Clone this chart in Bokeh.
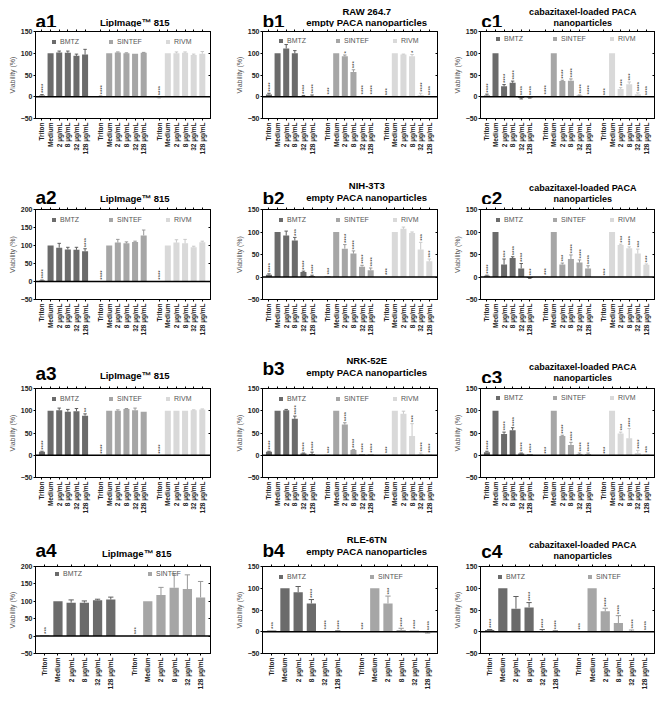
import math
from bokeh.plotting import figure
from bokeh.models import (ColumnDataSource, FixedTicker, LinearAxis, Span, Legend,
                          LegendItem, Label, Range1d, Grid)
from bokeh.layouts import gridplot
from bokeh.core.properties import value
from bokeh.embed import file_html
from bokeh.resources import INLINE

CATEGORIES = ["Triton", "Medium", "2 µg/mL", "8 µg/mL", "32 µg/mL", "128 µg/mL"]
SOURCES3 = ["BMTZ", "SINTEF", "RIVM"]
SOURCES2 = ["BMTZ", "SINTEF"]
COLORS = ["#6b6b6b", "#a6a6a6", "#d9d9d9"]
ERR_COLORS = ["#5e5e5e", "#999999", "#c9c9c9"]

TITLE_A = ["LipImage™ 815"]
TITLE_B1 = ["RAW 264.7", "empty PACA nanoparticles"]
TITLE_B2 = ["NIH-3T3", "empty PACA nanoparticles"]
TITLE_B3 = ["NRK-52E", "empty PACA nanoparticles"]
TITLE_B4 = ["RLE-6TN", "empty PACA nanoparticles"]
TITLE_C = ["cabazitaxel-loaded PACA", "nanoparticles"]

# ---- a: LipImage 815 ----
A1_MEAN = [[3, 100, 102, 101, 94, 97], [1, 100, 102, 100, 99, 101], [-2, 100, 100, 101, 96, 99]]
A1_ERR = [[2, 0, 3, 4, 4, 12], [1, 0, 1, 1, 0, 1], [1, 0, 3, 2, 2, 5]]
A1_SIG = [["****", "", "", "", "", ""], ["****", "", "", "", "", ""], ["****", "", "", "", "", ""]]

A2_MEAN = [[3, 100, 94, 89, 88, 84], [1, 100, 108, 106, 110, 128], [1, 100, 108, 106, 95, 109]]
A2_ERR = [[1, 0, 12, 6, 7, 7], [0, 0, 9, 4, 2, 15], [0, 0, 8, 11, 3, 3]]
A2_SIG = [["****", "", "", "", "", "****"], ["****", "", "", "", "", ""], ["****", "", "", "", "", ""]]

A3_MEAN = [[8, 100, 101, 98, 99, 89], [-1, 100, 100, 104, 101, 98], [-1, 100, 100, 100, 101, 103]]
A3_ERR = [[1, 0, 5, 5, 6, 4], [0, 0, 2, 1, 5, 0], [0, 0, 0, 0, 1, 1]]
A3_SIG = [["****", "", "", "", "", "**"], ["****", "", "", "", "", ""], ["****", "", "", "", "", ""]]

A4_MEAN = [[2, 100, 96, 96, 103, 105], [1, 100, 118, 139, 135, 111]]
A4_ERR = [[0, 0, 8, 5, 3, 7], [0, 0, 22, 40, 41, 46]]
A4_SIG = [["***", "", "", "", "", ""], ["***", "", "", "", "", ""]]

# ---- b: empty PACA nanoparticles ----
B1_MEAN = [[5, 100, 111, 100, 2, 2], [2, 100, 93, 57, 2, 2], [0, 100, 97, 93, 4, 0]]
B1_ERR = [[3, 0, 9, 6, 1, 2], [0, 0, 3, 5, 0, 0], [0, 0, 1, 4, 4, 0]]
B1_SIG = [["****", "", "", "", "****", "****"], ["***", "", "*", "***", "****", "****"],
          ["***", "", "", "*", "****", "****"]]

B2_MEAN = [[5, 100, 92, 81, 11, 2], [2, 100, 63, 52, 23, 15], [1, 100, 107, 98, 61, 35]]
B2_ERR = [[2, 0, 10, 7, 2, 2], [0, 0, 9, 6, 3, 5], [0, 0, 4, 2, 16, 5]]
B2_SIG = [["****", "", "", "***", "****", "****"], ["***", "", "****", "****", "****", "****"],
          ["***", "", "", "", "***", "***"]]

B3_MEAN = [[8, 100, 101, 82, 4, 3], [1, 100, 69, 12, 3, 2], [1, 100, 93, 43, 3, 2]]
B3_ERR = [[1, 0, 2, 6, 1, 4], [0, 0, 4, 1, 0, 0], [0, 0, 6, 28, 2, 0]]
B3_SIG = [["****", "", "", "****", "****", "****"], ["***", "", "****", "****", "****", "****"],
          ["***", "", "", "***", "****", "****"]]

B4_MEAN = [[3, 100, 91, 65, 2, 1], [2, 100, 65, 4, 3, -1]]
B4_ERR = [[0, 0, 13, 9, 0, 1], [0, 0, 17, 4, 0, 2]]
B4_SIG = [["***", "", "", "****", "****", "****"], ["***", "", "***", "****", "****", "****"]]

# ---- c: cabazitaxel-loaded PACA nanoparticles ----
C1_MEAN = [[3, 100, 24, 32, -3, -2], [2, 100, 36, 37, 3, 2], [0, 100, 18, 29, 6, 0]]
C1_ERR = [[3, 0, 4, 4, 2, 1], [0, 0, 2, 4, 1, 0], [0, 0, 3, 5, 3, 0]]
C1_SIG = [["****", "", "****", "****", "****", "****"], ["****", "", "****", "****", "****", "****"],
          ["***", "", "***", "***", "****", "****"]]

C2_MEAN = [[3, 100, 28, 42, 19, -2], [1, 100, 28, 40, 32, 19], [0, 100, 71, 64, 52, 27]]
C2_ERR = [[1, 0, 12, 3, 11, 1], [0, 0, 3, 9, 6, 6], [0, 0, 2, 3, 10, 2]]
C2_SIG = [["****", "", "***", "****", "****", "***"], ["***", "", "***", "****", "****", "****"],
          ["***", "", "***", "****", "***", "***"]]

C3_MEAN = [[7, 100, 48, 56, 4, 2], [0, 100, 43, 23, 3, 3], [0, 100, 49, 38, 5, 2]]
C3_ERR = [[2, 0, 4, 6, 1, 0], [0, 0, 2, 6, 2, 2], [0, 0, 3, 22, 6, 0]]
C3_SIG = [["****", "", "****", "****", "****", "****"], ["***", "", "****", "****", "****", "****"],
          ["***", "", "***", "****", "****", "***"]]

C4_MEAN = [[4, 100, 53, 56, 2, 1], [1, 100, 47, 20, 2, 0]]
C4_ERR = [[1, 0, 28, 11, 3, 1], [0, 0, 7, 17, 2, 0]]
C4_SIG = [["****", "", "", "****", "****", "****"], ["***", "", "****", "****", "****", "****"]]

FONT = "Liberation Sans"
GROUP_STEP = 68
BAR_STEP = 10


def style_axis(ax, size, bold=True):
    ax.major_label_text_font = FONT
    ax.major_label_text_font_size = size
    ax.major_label_text_font_style = "bold" if bold else "normal"
    ax.major_label_text_color = "#222222"
    ax.minor_tick_out = 0
    ax.minor_tick_in = 0
    ax.axis_line_color = "black"
    ax.major_tick_line_color = "black"


def hidden_axis(ticks, t_in, t_out):
    return LinearAxis(ticker=FixedTicker(ticks=ticks), major_tick_out=t_out, major_tick_in=t_in,
                      minor_tick_out=0, minor_tick_in=0, major_label_text_font_size="0px",
                      major_label_text_color=None, major_label_standoff=0,
                      axis_line_color="black", major_tick_line_color="black")


def build(letter, letter_y, titles, title_ys, title_size, mean, err, sig, sources, ymax,
          col, fw, header_h, plot_h, mbt, fh, leg_x, leg_sp):
    fig_w, bl, lx = col
    br = fig_w - bl - fw
    bb = plot_h - mbt - fh

    # header strip holding the panel letter and the title (pixel coordinates)
    h = figure(width=fig_w, height=header_h, x_range=Range1d(0, fig_w), y_range=Range1d(0, header_h),
               title=None, output_backend="svg", toolbar_location=None, tools="", min_border=0,
               x_axis_location=None, y_axis_location=None)
    h.outline_line_color = None
    h.background_fill_color = "white"
    h.border_fill_color = "white"
    for gr in h.select(type=Grid):
        gr.visible = False
    h.add_layout(Label(x=lx, y=letter_y, text=letter, text_font=FONT, text_font_size="19px",
                       text_font_style="bold", text_color="black",
                       text_baseline="alphabetic", text_align="left"))
    for line, ty in zip(titles, title_ys):
        h.add_layout(Label(x=bl + fw / 2, y=ty, text=line, text_font=FONT,
                           text_font_size=title_size, text_font_style="bold", text_color="black",
                           text_baseline="alphabetic", text_align="center"))

    ng = len(mean)
    x0, x1 = (-7.5, 195.5) if ng == 3 else (-7, 125.5)
    p = figure(width=fig_w, height=plot_h, x_range=Range1d(x0, x1), y_range=Range1d(-50, ymax),
               title=None, output_backend="svg", toolbar_location=None, tools="",
               min_border_left=bl, min_border_right=br, min_border_top=mbt, min_border_bottom=bb)
    p.xgrid.visible = False
    p.ygrid.visible = False
    p.outline_line_color = "black"
    p.outline_line_width = 1
    p.background_fill_color = "white"
    p.border_fill_color = "white"

    ticks, overrides, rs = [], {}, []
    for g in range(ng):
        xs = [g * GROUP_STEP + i * BAR_STEP for i in range(6)]
        for i, xv in enumerate(xs):
            ticks.append(xv)
            overrides[xv] = CATEGORIES[i]
        src = ColumnDataSource(dict(x=xs, top=mean[g]))
        r = p.vbar(x="x", top="top", bottom=0, width=7, source=src,
                   fill_color=COLORS[g], line_color=None)
        rs.append(r)
        ex, ey0, ey1 = [], [], []
        for xv, m, e in zip(xs, mean[g], err[g]):
            if e > 0:
                ex.append(xv)
                ey0.append(m)
                ey1.append(m + e if m >= 0 else m - e)
        esrc = ColumnDataSource(dict(x=ex, y0=ey0, y1=ey1,
                                     cx0=[v - 2 for v in ex], cx1=[v + 2 for v in ex]))
        p.segment(x0="x", y0="y0", x1="x", y1="y1", source=esrc,
                  line_color=ERR_COLORS[g], line_width=1)
        p.segment(x0="cx0", y0="y1", x1="cx1", y1="y1", source=esrc,
                  line_color=ERR_COLORS[g], line_width=1)
        sx, sy, st = [], [], []
        for xv, m, e, s in zip(xs, mean[g], err[g], sig[g]):
            if s:
                sx.append(xv)
                sy.append(max(m + e if m >= 0 else 0, 0))
                st.append(s)
        ssrc = ColumnDataSource(dict(x=sx, y=sy, t=st))
        p.text(x="x", y="y", text="t", source=ssrc, angle=math.pi / 2,
               text_align="left", text_baseline="middle", text_font=value(FONT),
               text_font_size="6px", text_color="#222222", x_offset=1, y_offset=-1.5)

    p.add_layout(Span(location=0, dimension="width", line_color="black", line_width=1.5))

    yt = list(range(-50, ymax + 1, 50))
    ya = p.yaxis[0]
    ya.ticker = FixedTicker(ticks=yt)
    style_axis(ya, "7px")
    ya.axis_label = "Viability (%)"
    ya.axis_label_text_font = FONT
    ya.axis_label_text_font_size = "7px"
    ya.axis_label_text_font_style = "normal"
    ya.axis_label_text_color = "#555555"
    ya.axis_label_standoff = 2
    ya.major_label_standoff = 1
    ya.major_tick_out = 2
    ya.major_tick_in = 0

    xa = p.xaxis[0]
    xa.ticker = FixedTicker(ticks=ticks)
    xa.major_label_overrides = overrides
    xa.major_label_orientation = math.pi / 2
    style_axis(xa, "6.5px")
    xa.major_label_standoff = 2
    xa.major_tick_out = 2
    xa.major_tick_in = 0

    p.add_layout(hidden_axis(ticks, 0, 2), "above")
    p.add_layout(hidden_axis(yt, 2, 0), "right")

    legend = Legend(items=[LegendItem(label=sources[g], renderers=[rs[g]]) for g in range(ng)],
                    orientation="horizontal", location=(leg_x + 5, fh - 16),
                    glyph_width=5, glyph_height=5, label_standoff=4, label_width=40,
                    label_height=8, spacing=leg_sp, padding=0, margin=0,
                    border_line_color=None, background_fill_alpha=0,
                    label_text_font=FONT, label_text_font_size="7px",
                    label_text_color="#555555")
    p.add_layout(legend)
    return h, p


COL_A = (216, 35, 0)
COL_B = (224, 46, 0)
COL_C = (216, 40, 1)
TA, TB, TC = "9.5px", "9.5px", "9px"

# row 1 (header 27, plot 136)
ha1, a1 = build("a1", 6.5, TITLE_A, [5], TA, A1_MEAN, A1_ERR, A1_SIG, SOURCES3, 150,
                COL_A, 175, 27, 136, 2, 89, 11, 8)
hb1, b1 = build("b1", 6.5, TITLE_B1, [16, 5.5], TB, B1_MEAN, B1_ERR, B1_SIG, SOURCES3, 150,
                COL_B, 175, 27, 136, 4, 90, 11, 8)
hc1, c1 = build("c1", 6.5, TITLE_C, [16, 5], TC, C1_MEAN, C1_ERR, C1_SIG, SOURCES3, 150,
                COL_C, 174, 27, 136, 4, 92, 10, 8)
# row 2 (header 41, plot 136)
ha2, a2 = build("a2", 7, TITLE_A, [6], TA, A2_MEAN, A2_ERR, A2_SIG, SOURCES3, 200,
                COL_A, 175, 41, 136, 3, 92, 11, 8)
hb2, b2 = build("b2", 6, TITLE_B2, [19, 7], TB, B2_MEAN, B2_ERR, B2_SIG, SOURCES3, 150,
                COL_B, 175, 41, 136, 5, 92, 11, 8)
hc2, c2 = build("c2", 6, TITLE_C, [17, 6], TC, C2_MEAN, C2_ERR, C2_SIG, SOURCES3, 150,
                COL_C, 174, 41, 136, 5, 92, 10, 8)
# row 3 (header 43, plot 135)
ha3, a3 = build("a3", 10, TITLE_A, [8], TA, A3_MEAN, A3_ERR, A3_SIG, SOURCES3, 150,
                COL_A, 175, 43, 135, 3, 91, 11, 8)
hb3, b3 = build("b3", 15, TITLE_B3, [23, 11], TB, B3_MEAN, B3_ERR, B3_SIG, SOURCES3, 150,
                COL_B, 175, 43, 135, 5, 91, 11, 8)
hc3, c3 = build("c3", 6, TITLE_C, [17, 6], TC, C3_MEAN, C3_ERR, C3_SIG, SOURCES3, 150,
                COL_C, 174, 43, 135, 4, 92, 10, 8)
# row 4 (header 43, plot 131)
ha4, a4 = build("a4", 11, TITLE_A, [8], TA, A4_MEAN, A4_ERR, A4_SIG, SOURCES2, 200,
                COL_A, 180, 43, 131, 3, 92, 14, 44)
hb4, b4 = build("b4", 11, TITLE_B4, [22, 10], TB, B4_MEAN, B4_ERR, B4_SIG, SOURCES2, 150,
                COL_B, 175, 43, 131, 5, 89, 11, 42)
hc4, c4 = build("c4", 10, TITLE_C, [17, 6], TC, C4_MEAN, C4_ERR, C4_SIG, SOURCES2, 150,
                COL_C, 174, 43, 131, 5, 89, 12, 41)

grid = gridplot([[ha1, hb1, hc1], [a1, b1, c1],
                 [ha2, hb2, hc2], [a2, b2, c2],
                 [ha3, hb3, hc3], [a3, b3, c3],
                 [ha4, hb4, hc4], [a4, b4, c4]],
                toolbar_location=None)

open("out.html", "w").write(file_html(grid, INLINE))
